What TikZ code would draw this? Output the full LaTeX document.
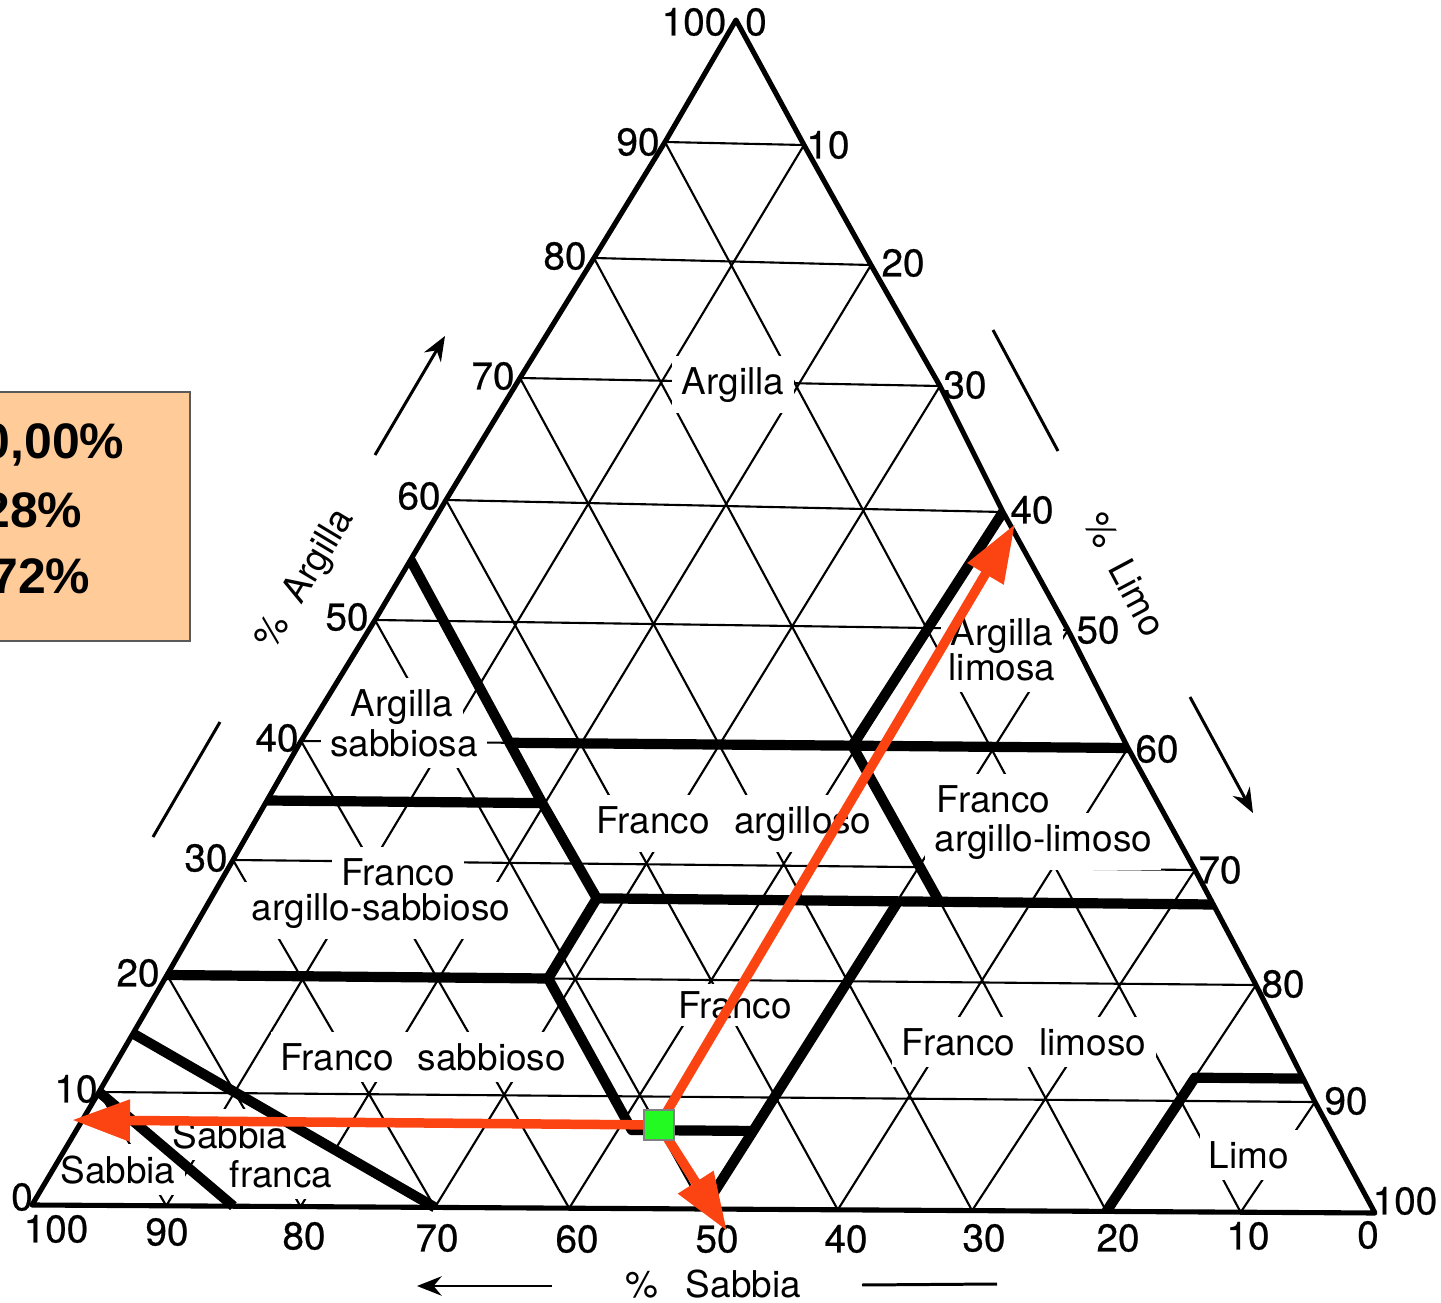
\documentclass[tikz,border=0pt]{standalone}
\usepackage{fontspec}
\setmainfont{TeX Gyre Heros}
\newfontfamily\panelfont{Liberation Sans}
\newfontfamily\numfont[FakeBold=0.6]{TeX Gyre Heros}
\usetikzlibrary{arrows.meta}

\definecolor{panelfill}{RGB}{255,204,153}
\definecolor{panelline}{RGB}{90,90,90}
\definecolor{readout}{RGB}{252,68,18}
\definecolor{samplegreen}{RGB}{34,250,34}

\pgfdeclarelayer{gridlayer}
\pgfdeclarelayer{clearlayer}
\pgfsetlayers{gridlayer,clearlayer,main}

% End points of every 10 % clay row (left edge x/y, right edge x/y), in px
\def\LXs{{32,99,167,233,301,375,446,520,594,665,736}}
\def\LYs{{1205,1092,975,860,741,620,500,378,258,142,20}}
\def\RXs{{1375,1315,1256,1195,1128,1068,1003,940,871,804,736}}
\def\RYs{{1213,1102,985,870,748,630,512,386,265,145,20}}

% \soilpt{name}{sand}{clay}: named coordinate of a texture point
\newcommand\soilpt[3]{%
  \pgfmathsetmacro\spC{#3}%
  \pgfmathtruncatemacro\spK{min(floor(\spC/10),9)}%
  \pgfmathtruncatemacro\spKn{\spK+1}%
  \pgfmathsetmacro\spF{\spC/10-\spK}%
  \pgfmathsetmacro\spLX{\LXs[\spK]*(1-\spF)+\LXs[\spKn]*\spF}%
  \pgfmathsetmacro\spLY{\LYs[\spK]*(1-\spF)+\LYs[\spKn]*\spF}%
  \pgfmathsetmacro\spRX{\RXs[\spK]*(1-\spF)+\RXs[\spKn]*\spF}%
  \pgfmathsetmacro\spRY{\RYs[\spK]*(1-\spF)+\RYs[\spKn]*\spF}%
  \pgfmathsetmacro\spT{(100-\spC-(#2))/max(100-\spC,0.001)}%
  \coordinate (#1) at ({\spLX+\spT*(\spRX-\spLX)},{\spLY+\spT*(\spRY-\spLY)});%
}

\begin{document}
\begin{tikzpicture}[x=0.01cm,y=-0.01cm,
  gridline/.style={line width=0.6pt},
  rim/.style={line width=1.45pt,line join=round},
  zoneline/.style={line width=2.9pt,line join=round,line cap=butt},
  zonelbl/.style={font=\fontsize{10.5pt}{12pt}\selectfont,inner sep=0pt,anchor=base},
  ticklbl/.style={font=\numfont\fontsize{11pt}{12pt}\selectfont,inner sep=0pt},
  axtitle/.style={font=\fontsize{10.5pt}{12pt}\selectfont,inner sep=0pt},
  axline/.style={line width=0.85pt},
  axarrow/.style={line width=0.85pt,-{Stealth[length=7pt,width=5.5pt]}},
  readarrow/.style={readout,line width=2.7pt,
    -{Triangle[length=16.5pt,width=11.3pt]}},
  paneltxt/.style={font=\panelfont\bfseries\fontsize{14.2pt}{16pt}\selectfont,
    inner sep=0pt,anchor=base east}
]
\begin{pgfonlayer}{gridlayer}
  \fill[white] (0,0) rectangle (1441,1303);
\end{pgfonlayer}
\useasboundingbox (0,0) rectangle (1441,1303);

% ---------- reference points of the triangle ----------
\foreach \k in {0,...,10}{%
  \soilpt{L\k}{100-10*\k}{10*\k}%
  \soilpt{R\k}{0}{10*\k}%
}
\foreach \k in {1,...,9}{%
  \soilpt{sb\k}{10*\k}{0}%
  \soilpt{tb\k}{100-10*\k}{0}%
}

% ---------- thin 10 % grid ----------
\begin{pgfonlayer}{gridlayer}
\foreach \k in {1,...,9}{%
  \pgfmathtruncatemacro\kk{10-\k}%
  \draw[gridline] (L\k) -- (R\k);
  \draw[gridline] (L\kk) -- (sb\k);
  \draw[gridline] (R\kk) -- (tb\k);
}
\end{pgfonlayer}

% ---------- texture class names ----------
\node[zonelbl] (argilla) at (733,394) {Argilla};
\node[zonelbl] (asabA) at (402,716) {Argilla};
\node[zonelbl] (asabB) at (404,756) {sabbiosa};
\node[zonelbl] (alimA) at (1002,645) {Argilla};
\node[zonelbl] (alimB) at (1002,680) {limosa};
\node[zonelbl] (fargil) at (734,833) {Franco\hspace{4pt} argilloso};
\node[zonelbl,anchor=base west] (falimA) at (936,812) {Franco};
\node[zonelbl,anchor=base west] (falimB) at (934,851) {argillo-limoso};
\node[zonelbl] (fasabA) at (398,885) {Franco};
\node[zonelbl] (fasabB) at (381,920) {argillo-sabbioso};
\node[zonelbl] (franco) at (735,1018) {Franco};
\node[zonelbl] (fsab) at (423,1070) {Franco\hspace{4pt} sabbioso};
\node[zonelbl] (flim) at (1024,1055) {Franco\hspace{4pt} limoso};
\node[zonelbl] (sfrA) at (230,1148) {Sabbia};
\node[zonelbl] (sfrB) at (281,1187) {franca};
\node[zonelbl] (sabbia) at (118,1183) {Sabbia};
\node[zonelbl] (limo) at (1249,1168) {Limo};

% white clearance that interrupts the grid around every class name
\begin{pgfonlayer}{clearlayer}
\foreach \n/\ys in {argilla/3,asabA/3,asabB/3,alimA/3,alimB/3,fargil/3,
    falimA/3,falimB/3,fasabA/3,fasabB/3,franco/1.8,fsab/3,flim/3,
    sfrA/3,sfrB/3,sabbia/3,limo/3}{
  \fill[white] ([xshift=-2.5pt,yshift=\ys pt]\n.north west)
    rectangle ([xshift=2.5pt,yshift=-\ys pt]\n.south east);
}
\end{pgfonlayer}

% ---------- class boundaries ----------
\soilpt{z1}{45}{55}  \soilpt{z2}{45}{40}  \soilpt{z3}{45}{35}
\soilpt{z4}{45}{27}  \soilpt{z5}{52}{20}  \soilpt{z6}{52}{7}
\soilpt{z7}{43}{7}   \soilpt{z8}{50}{0}   \soilpt{z9}{23}{27}
\soilpt{z10}{0}{27}  \soilpt{z11}{0}{40}  \soilpt{z12}{20}{40}
\soilpt{z13}{20}{27} \soilpt{z14}{0}{60}  \soilpt{z15}{65}{35}
\soilpt{z16}{80}{20} \soilpt{z17}{20}{0}  \soilpt{z18}{8}{12}
\soilpt{z19}{0}{12}  \soilpt{z20}{85}{0}  \soilpt{z21}{90}{10}
\soilpt{z22}{70}{0}  \soilpt{z23}{85}{15}
\draw[zoneline] (z1) -- (z3) -- (z4) -- (z5) -- (z6) -- (z7);
\draw[zoneline] (z9) -- (z7) -- (z8);
\draw[zoneline] (z4) -- (z10);
\draw[zoneline] (z2) -- (z11);
\draw[zoneline] (z13) -- (z12) -- (z14);
\draw[zoneline] (z15) -- (z3);
\draw[zoneline] (z16) -- (z5);
\draw[zoneline] (z17) -- (z18) -- (z19);
\draw[zoneline] (z20) -- (z21);
\draw[zoneline] (z22) -- (z23);

% ---------- outline ----------
\draw[rim] (L0) -- (L1) -- (L2) -- (L3) -- (L4) -- (L5) -- (L6) -- (L7)
  -- (L8) -- (L9) -- (L10) -- (R9) -- (R8) -- (R7) -- (R6) -- (R5) -- (R4)
  -- (R3) -- (R2) -- (R1) -- (R0) -- cycle;

% ---------- scale numbers ----------
% clay (left side)
\node[ticklbl] (c100) at (694,22) {100};
\node[ticklbl] (c90) at (638,142) {90};
\node[ticklbl] (c80) at (565,256) {80};
\node[ticklbl] (c70) at (493,376) {70};
\node[ticklbl] (c60) at (419,496) {60};
\node[ticklbl] (c50) at (347,617) {50};
\node[ticklbl] (c40) at (277,738) {40};
\node[ticklbl] (c30) at (206,858) {30};
\node[ticklbl] (c20) at (138,973) {20};
\node[ticklbl] (c10) at (76,1089) {10};
\node[ticklbl] (c0) at (22,1197) {0};
% silt (right side)
\node[ticklbl] (t0) at (756,22) {0};
\node[ticklbl] (t10) at (828,145) {10};
\node[ticklbl] (t20) at (903,263) {20};
\node[ticklbl] (t30) at (965,385) {30};
\node[ticklbl] (t40) at (1032,510) {40};
\node[ticklbl] (t50) at (1098,630) {50};
\node[ticklbl] (t60) at (1157,749) {60};
\node[ticklbl] (t70) at (1220,870) {70};
\node[ticklbl] (t80) at (1283,984) {80};
\node[ticklbl] (t90) at (1346,1101) {90};
\node[ticklbl] (t100) at (1405,1201) {100};
% sand (base)
\node[ticklbl] (s100) at (56,1229) {100};
\node[ticklbl] (s90) at (167,1232) {90};
\node[ticklbl] (s80) at (304,1236) {80};
\node[ticklbl] (s70) at (437,1238) {70};
\node[ticklbl] (s60) at (577,1239) {60};
\node[ticklbl] (s50) at (717,1239) {50};
\node[ticklbl] (s40) at (846,1239) {40};
\node[ticklbl] (s30) at (984,1238) {30};
\node[ticklbl] (s20) at (1118,1238) {20};
\node[ticklbl] (s10) at (1248,1236) {10};
\node[ticklbl] (s0) at (1368,1235) {0};

% ---------- axis titles and direction arrows ----------
\node[axtitle,rotate=59] (clayttl) at (306,580) {\%\hspace{3pt} Argilla};
\node[axtitle,rotate=-62] (siltttl) at (1125,574) {\%\hspace{3pt} Limo};
\node[axtitle] (sandttl) at (713,1284) {\%\hspace{5pt} Sabbia};
\coordinate (ca1) at (375,455);  \coordinate (ca2) at (445,336);
\coordinate (cb1) at (153,837);  \coordinate (cb2) at (220,722);
\coordinate (ta1) at (993,330);  \coordinate (ta2) at (1058,451);
\coordinate (tb1) at (1190,697); \coordinate (tb2) at (1253,813);
\coordinate (sa1) at (552,1286); \coordinate (sa2) at (417,1286);
\coordinate (sc1) at (862,1285); \coordinate (sc2) at (997,1284);
\draw[axarrow] (ca1) -- (ca2);
\draw[axline] (cb1) -- (cb2);
\draw[axline] (ta1) -- (ta2);
\draw[axarrow] (tb1) -- (tb2);
\draw[axarrow] (sa1) -- (sa2);
\draw[axline] (sc1) -- (sc2);

% ---------- sample point and read-out arrows ----------
\coordinate (sample) at (659,1125);
\coordinate (readclay) at (72,1120);
\coordinate (readsilt) at (1015,524);
\coordinate (readsand) at (727,1231);
\draw[readarrow] (sample) -- (readclay);
\draw[readarrow] (sample) -- (readsilt);
\draw[readarrow] (sample) -- (readsand);
\node[draw=gray,line width=0.4pt,fill=samplegreen,minimum size=8.5pt,
  inner sep=0pt] (samplebox) at (sample) {};

% ---------- result panel ----------
\begin{scope}
  \clip (0,0) rectangle (1441,1303);
  \draw[panelline,fill=panelfill,line width=0.4pt] (-10,392) rectangle (190,641);
  \node[paneltxt] (valA) at (125,458) {0,00\%};
  \node[paneltxt] (valB) at (83,527) {28\%};
  \node[paneltxt] (valC) at (91,593) {72\%};
\end{scope}
\end{tikzpicture}
\end{document}
